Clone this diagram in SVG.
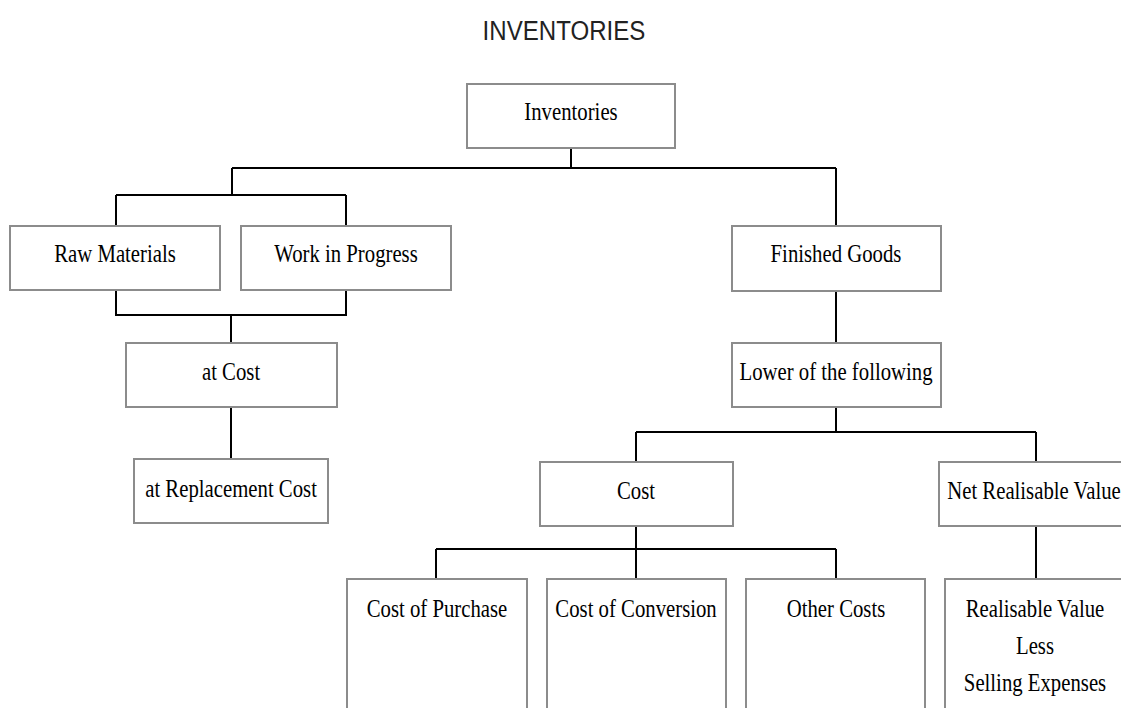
<svg xmlns="http://www.w3.org/2000/svg" width="1121" height="708" viewBox="0 0 1121 708">
<style>
.box{fill:#fff;stroke:#8c8c8c;stroke-width:2}
.lbl{font-family:"Liberation Serif","Times New Roman",serif;font-size:25px;fill:#000;text-anchor:middle;transform-box:fill-box;transform-origin:center;transform:scaleX(0.83)}
.title{font-family:"Liberation Sans",Arial,sans-serif;font-size:28px;fill:#222;text-anchor:middle;transform-box:fill-box;transform-origin:center;transform:scaleX(0.86)}
.con{fill:none;stroke:#000;stroke-width:2}
</style>
<rect width="1121" height="708" fill="#fff"/>
<text class="title" x="564" y="40">INVENTORIES</text>
<g id="connectors">
<path class="con" d="M571 148V168M232 168H836M232 168V195M116 195H346M116 195V226M346 195V226"/>
<path class="con" d="M836 168V226M116 290V315H346V290M231 315V343M231 407V459"/>
<path class="con" d="M836 291V343M836 407V432M636 432H1036M636 432V462M1036 432V462"/>
<path class="con" d="M636 526V579M436 549H836M436 549V579M836 549V579M1036 526V579"/>
</g>
<g id="inventories"><rect class="box" x="467" y="84" width="208" height="64"/><text class="lbl" x="571" y="120">Inventories</text></g>
<g id="raw-materials"><rect class="box" x="10" y="226" width="210" height="64"/><text class="lbl" x="115" y="262">Raw Materials</text></g>
<g id="work-in-progress"><rect class="box" x="241" y="226" width="210" height="64"/><text class="lbl" x="346" y="262">Work in Progress</text></g>
<g id="finished-goods"><rect class="box" x="732" y="226" width="209" height="65"/><text class="lbl" x="836" y="262">Finished Goods</text></g>
<g id="at-cost"><rect class="box" x="126" y="343" width="211" height="64"/><text class="lbl" x="231" y="380">at Cost</text></g>
<g id="lower-of"><rect class="box" x="732" y="343" width="209" height="64"/><text class="lbl" x="836" y="380">Lower of the following</text></g>
<g id="at-replacement-cost"><rect class="box" x="134" y="459" width="194" height="64"/><text class="lbl" x="231" y="497">at Replacement Cost</text></g>
<g id="cost"><rect class="box" x="540" y="462" width="193" height="64"/><text class="lbl" x="636" y="499">Cost</text></g>
<g id="net-realisable-value"><rect class="box" x="939" y="462" width="190" height="64"/><text class="lbl" x="1034" y="499">Net Realisable Value</text></g>
<g id="cost-of-purchase"><rect class="box" x="347" y="579" width="180" height="140"/><text class="lbl" x="437" y="617">Cost of Purchase</text></g>
<g id="cost-of-conversion"><rect class="box" x="547" y="579" width="179" height="140"/><text class="lbl" x="636" y="617">Cost of Conversion</text></g>
<g id="other-costs"><rect class="box" x="746" y="579" width="179" height="140"/><text class="lbl" x="836" y="617">Other Costs</text></g>
<g id="realisable"><rect class="box" x="945" y="579" width="180" height="140"/><text class="lbl" x="1035" y="617">Realisable Value</text><text class="lbl" x="1035" y="654">Less</text><text class="lbl" x="1035" y="691">Selling Expenses</text></g>
</svg>
